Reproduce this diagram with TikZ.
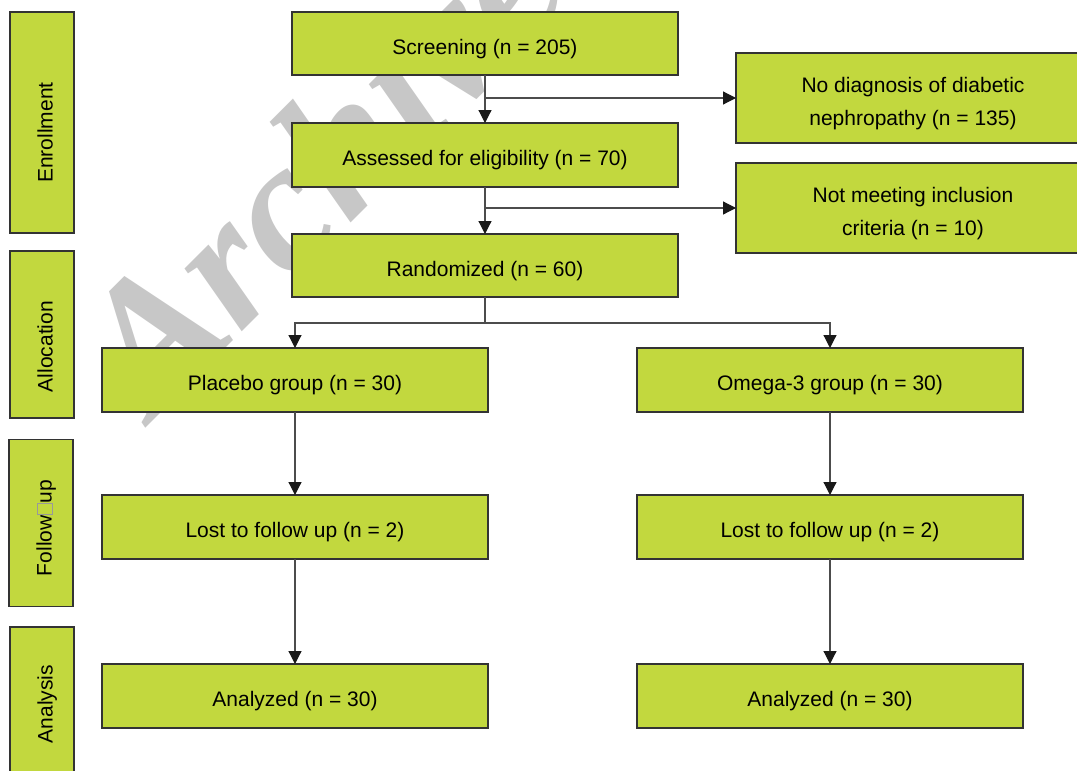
\documentclass[tikz,border=0pt]{standalone}
\usepackage{fontspec}
\setmainfont{Liberation Sans}
\newfontfamily\markfont{Liberation Serif}
\usetikzlibrary{arrows.meta,positioning}

\definecolor{boxgreen}{RGB}{194,216,62}
\definecolor{edgegray}{RGB}{51,51,51}

\tikzset{
  basebox/.style={draw=edgegray, line width=1.4pt, fill=boxgreen, minimum width=386pt,
    minimum height=64pt, inner sep=0pt, outer sep=0pt, align=center,
    font=\fontsize{21}{33}\selectfont},
  flowbox/.style={basebox, text height=26pt, text depth=5pt},
  sidebox/.style={basebox, rotate=90, minimum height=64pt, align=none,
    text height=21pt, text depth=0pt},
  link/.style={draw=black!70, line width=1.2pt},
  arr/.style={link, -{Triangle[width=13pt,length=13pt,color=black!90]}}
}

\newcommand{\gapbox}{{\color{black!40}\setlength{\fboxsep}{0pt}\setlength{\fboxrule}{1pt}\fbox{\rule{0pt}{13pt}\hspace{10pt}}}}
\newcommand{\lowstrut}{\rule{0pt}{27pt}}
\newcommand{\tailgap}[1]{\hspace{#1}\null}

\begin{document}
\begin{tikzpicture}[x=1pt,y=-1pt]
\useasboundingbox (0,0) rectangle (1077,771);

% Watermark
\node[anchor=base west, rotate=45, text=black!22, inner sep=0pt,
  font=\markfont\bfseries\itshape\fontsize{185}{185}\selectfont] (mark) at (152,422) {Archive};

% Stages
\node[sidebox, minimum width=221pt] (enroll) at (42,122.5) {Enrollment\tailgap{20pt}};
\node[sidebox, minimum width=167pt] (alloc) at (42,334.5) {Allocation\tailgap{24pt}};
\node[sidebox, minimum width=167pt] (follow) at (41,523) {Follow\gapbox up\tailgap{10pt}};
\node[sidebox, minimum width=154pt] (analysis) at (42,704) {Analysis};

% Enrollment boxes
\node[flowbox, minimum height=63pt] (screen) at (485,43.5) {Screening (n = 205)};
\node[flowbox] (assess) at (485,155) {Assessed for eligibility (n = 70)};
\node[flowbox, minimum height=63pt] (rand) at (485,265.5) {Randomized (n = 60)};
\node[basebox, minimum width=354pt, minimum height=90pt] (nodiag) at (913,98)
  {\lowstrut No diagnosis of diabetic\\nephropathy (n = 135)};
\node[basebox, minimum width=354pt, minimum height=90pt] (notmeet) at (913,208)
  {\lowstrut Not meeting inclusion\\criteria (n = 10)};

% Groups
\node[flowbox] (placebo) at (295,380) {Placebo group (n = 30)};
\node[flowbox] (omega) at (830,380) {Omega-3 group (n = 30)};
\node[flowbox] (lostA) at (295,527) {Lost to follow up (n = 2)};
\node[flowbox] (lostB) at (830,527) {Lost to follow up (n = 2)};
\node[flowbox] (anaA) at (295,696) {Analyzed (n = 30)};
\node[flowbox] (anaB) at (830,696) {Analyzed (n = 30)};

% Connectors
\draw[arr] (screen) -- (assess);
\draw[arr] (assess) -- (rand);
\draw[arr] (screen.south |- nodiag.west) -- (nodiag.west);
\draw[arr] (assess.south |- notmeet.west) -- (notmeet.west);
\draw[link] (rand.south) -- ++(0,26) coordinate (split);
\draw[arr] (split) -| (placebo.north);
\draw[arr] (split) -| (omega.north);
\draw[arr] (placebo) -- (lostA);
\draw[arr] (omega) -- (lostB);
\draw[arr] (lostA) -- (anaA);
\draw[arr] (lostB) -- (anaB);

\end{tikzpicture}
\end{document}
